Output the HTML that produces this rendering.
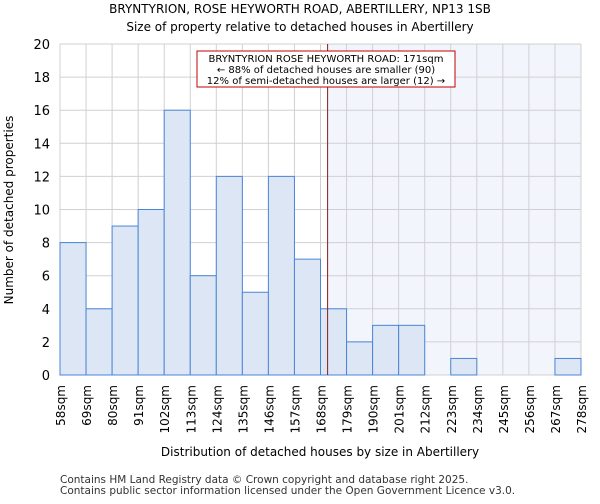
<!DOCTYPE html>
<html><head><meta charset="utf-8"><style>
body{margin:0;background:#fff;font-family:"DejaVu Sans","Liberation Sans",sans-serif;}
</style></head><body>
<svg id="chart" width="600" height="500" xmlns="http://www.w3.org/2000/svg" font-family="DejaVu Sans, Liberation Sans, sans-serif">
<text x="300" y="13" text-anchor="middle" font-size="12">BRYNTYRION, ROSE HEYWORTH ROAD, ABERTILLERY, NP13 1SB</text>
<text x="300" y="31" text-anchor="middle" font-size="12">Size of property relative to detached houses in Abertillery</text>
<g id="plot"></g>
<text x="320" y="456" text-anchor="middle" font-size="12">Distribution of detached houses by size in Abertillery</text>
<text transform="translate(13,210) rotate(-90)" text-anchor="middle" font-size="12">Number of detached properties</text>
<text x="60" y="483" font-size="10.5" fill="#333">Contains HM Land Registry data © Crown copyright and database right 2025.</text>
<text x="60" y="494" font-size="10.5" fill="#333">Contains public sector information licensed under the Open Government Licence v3.0.</text>
</svg>
<script>
const binEdges=[58,69,80,91,102,113,124,135,146,157,168,179,190,201,212,223,234,245,256,267,278];
const counts=[8,4,9,10,16,6,12,5,12,7,4,2,3,3,0,1,0,0,0,1];
const yTicks=[0,2,4,6,8,10,12,14,16,18,20];
const subjectSize=171;
const annotationLines=["BRYNTYRION ROSE HEYWORTH ROAD: 171sqm","← 88% of detached houses are smaller (90)","12% of semi-detached houses are larger (12) →"];
const NS="http://www.w3.org/2000/svg";
const L=60,R=581,T=44,B=375;
const xs=v=>L+(v-binEdges[0])/(binEdges[binEdges.length-1]-binEdges[0])*(R-L);
const ys=v=>B-v/20*(B-T);
const g=document.getElementById('plot');
function mk(tag,a,txt){const e=document.createElementNS(NS,tag);for(const k in a)e.setAttribute(k,a[k]);if(txt!==undefined)e.textContent=txt;g.appendChild(e);return e;}
let e=mk('rect',{x:xs(subjectSize),y:T,width:R-xs(subjectSize),height:B-T,fill:'#f2f5fc'});


yTicks.forEach(t=>{
 let l=mk('line',{x1:L,x2:R,y1:ys(t),y2:ys(t),stroke:'#d0d0d0','stroke-width':1});
 
 
 let tx=mk('text',{x:L-10,y:ys(t)+5,'text-anchor':'end','font-size':13},String(t));
 
 
});
binEdges.forEach(v=>{
 let l=mk('line',{x1:xs(v),x2:xs(v),y1:T,y2:B,stroke:'#d0d0d0','stroke-width':1});
 
 
 let tx=mk('text',{transform:`translate(${xs(v)+5},${B+10}) rotate(-90)`,'text-anchor':'end','font-size':12},v+'sqm');
 
 
});
counts.forEach((c,i)=>{
 if(c<=0)return;
 let r=mk('rect',{x:xs(binEdges[i]),y:ys(c),width:xs(binEdges[i+1])-xs(binEdges[i]),height:B-ys(c),fill:'#dce6f4',stroke:'#4a86d8','stroke-width':1});
 
 
});
let ln=mk('line',{x1:xs(subjectSize),x2:xs(subjectSize),y1:T,y2:B,stroke:'#8b1a1a','stroke-width':1});


let bx=mk('rect',{x:197,y:51,width:258,height:36,fill:'#fff',stroke:'#c00000','stroke-width':1});


annotationLines.forEach((s,i)=>{
 let t=mk('text',{x:326,y:62+i*11,'text-anchor':'middle','font-size':10},s);
 
 
});
</script>
</body></html>
